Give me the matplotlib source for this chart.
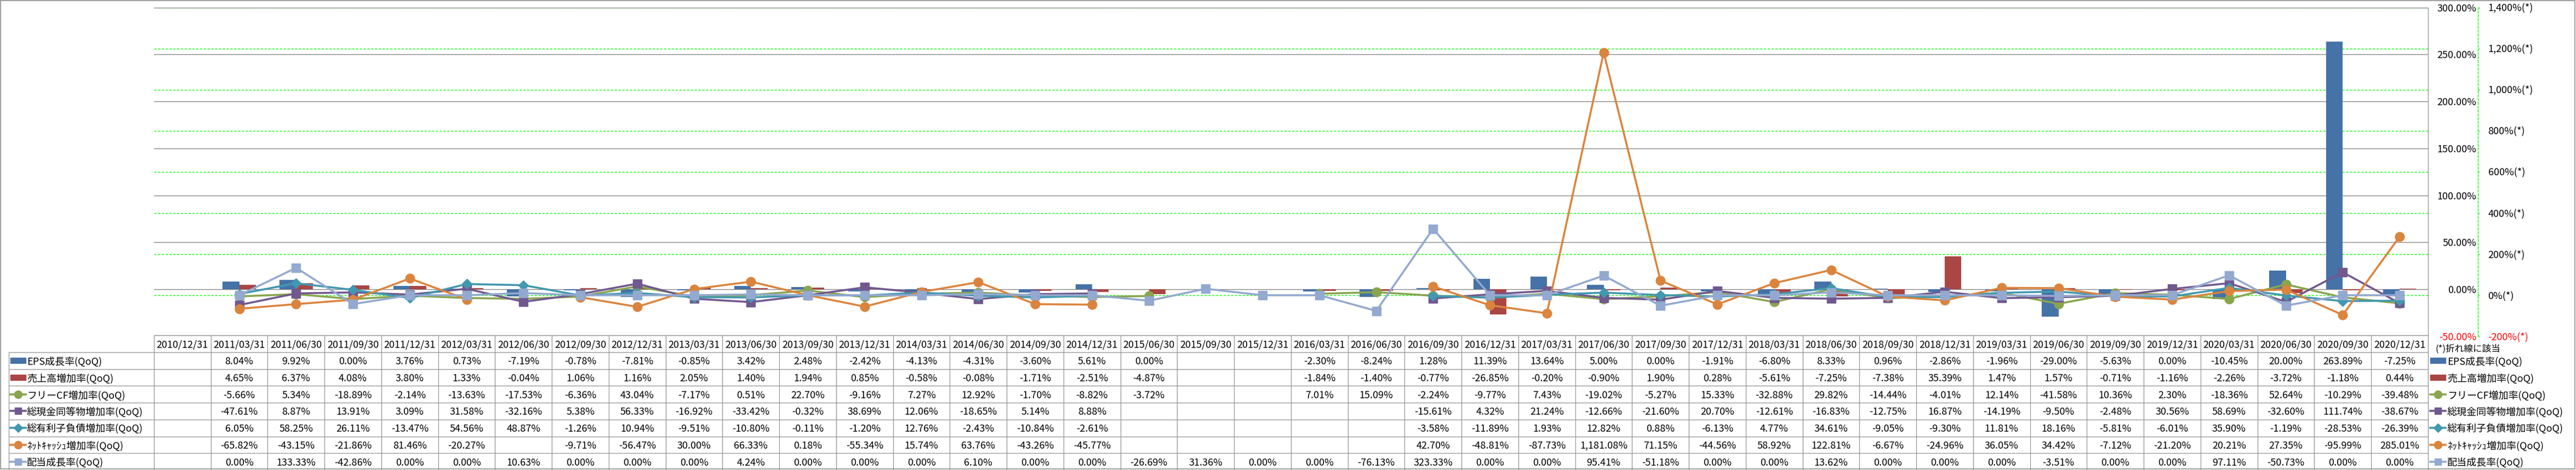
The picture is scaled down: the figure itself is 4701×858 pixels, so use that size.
import numpy as np
import matplotlib
matplotlib.use('Agg')
import matplotlib.pyplot as plt
from matplotlib.lines import Line2D
from matplotlib.patches import Rectangle

plt.rcParams['font.family'] = ['Noto Sans CJK JP', 'DejaVu Sans']

nan = np.nan

# 四半期ラベル (2015/03/31 は元データに無い)
dates = ['2010/12/31', '2011/03/31', '2011/06/30', '2011/09/30', '2011/12/31',
         '2012/03/31', '2012/06/30', '2012/09/30', '2012/12/31', '2013/03/31',
         '2013/06/30', '2013/09/30', '2013/12/31', '2014/03/31', '2014/06/30',
         '2014/09/30', '2014/12/31', '2015/06/30', '2015/09/30', '2015/12/31',
         '2016/03/31', '2016/06/30', '2016/09/30', '2016/12/31', '2017/03/31',
         '2017/06/30', '2017/09/30', '2017/12/31', '2018/03/31', '2018/06/30',
         '2018/09/30', '2018/12/31', '2019/03/31', '2019/06/30', '2019/09/30',
         '2019/12/31', '2020/03/31', '2020/06/30', '2020/09/30', '2020/12/31']

eps = [nan, 8.04, 9.92, 0.00, 3.76, 0.73, -7.19, -0.78, -7.81, -0.85, 3.42, 2.48, -2.42, -4.13,
       -4.31, -3.60, 5.61, 0.00, nan, nan, -2.30, -8.24, 1.28, 11.39, 13.64, 5.00, 0.00, -1.91,
       -6.80, 8.33, 0.96, -2.86, -1.96, -29.00, -5.63, 0.00, -10.45, 20.00, 263.89, -7.25]
sales = [nan, 4.65, 6.37, 4.08, 3.80, 1.33, -0.04, 1.06, 1.16, 2.05, 1.40, 1.94, 0.85, -0.58,
         -0.08, -1.71, -2.51, -4.87, nan, nan, -1.84, -1.40, -0.77, -26.85, -0.20, -0.90, 1.90,
         0.28, -5.61, -7.25, -7.38, 35.39, 1.47, 1.57, -0.71, -1.16, -2.26, -3.72, -1.18, 0.44]
fcf = [nan, -5.66, 5.34, -18.89, -2.14, -13.63, -17.53, -6.36, 43.04, -7.17, 0.51, 22.70, -9.16,
       7.27, 12.92, -1.70, -8.82, -3.72, nan, nan, 7.01, 15.09, -2.24, -9.77, 7.43, -19.02, -5.27,
       15.33, -32.88, 29.82, -14.44, -4.01, 12.14, -41.58, 10.36, 2.30, -18.36, 52.64, -10.29, -39.48]
cash = [nan, -47.61, 8.87, 13.91, 3.09, 31.58, -32.16, 5.38, 56.33, -16.92, -33.42, -0.32, 38.69,
        12.06, -18.65, 5.14, 8.88, nan, nan, nan, nan, nan, -15.61, 4.32, 21.24, -12.66, -21.60,
        20.70, -12.61, -16.83, -12.75, 16.87, -14.19, -9.50, -2.48, 30.56, 58.69, -32.60, 111.74, -38.67]
debt = [nan, 6.05, 58.25, 26.11, -13.47, 54.56, 48.87, -1.26, 10.94, -9.51, -10.80, -0.11, -1.20,
        12.76, -2.43, -10.84, -2.61, nan, nan, nan, nan, nan, -3.58, -11.89, 1.93, 12.82, 0.88,
        -6.13, 4.77, 34.61, -9.05, -9.30, 11.81, 18.16, -5.81, -6.01, 35.90, -1.19, -28.53, -26.39]
netcash = [nan, -65.82, -43.15, -21.86, 81.46, -20.27, nan, -9.71, -56.47, 30.00, 66.33, 0.18,
           -55.34, 15.74, 63.76, -43.26, -45.77, nan, nan, nan, nan, nan, 42.70, -48.81, -87.73,
           1181.08, 71.15, -44.56, 58.92, 122.81, -6.67, -24.96, 36.05, 34.42, -7.12, -21.20,
           20.21, 27.35, -95.99, 285.01]
dividend = [nan, 0.00, 133.33, -42.86, 0.00, 0.00, 10.63, 0.00, 0.00, 0.00, 4.24, 0.00, 0.00, 0.00,
            6.10, 0.00, 0.00, -26.69, 31.36, 0.00, 0.00, -76.13, 323.33, 0.00, 0.00, 95.41, -51.18,
            0.00, 0.00, 13.62, 0.00, 0.00, 0.00, -3.51, 0.00, 0.00, 97.11, -50.73, 0.00, 0.00]

names = ['EPS成長率(QoQ)', '売上高増加率(QoQ)', 'フリーCF増加率(QoQ)', '総現金同等物増加率(QoQ)',
         '総有利子負債増加率(QoQ)', 'ﾈｯﾄｷｬｯｼｭ増加率(QoQ)', '配当成長率(QoQ)']
series = [eps, sales, fcf, cash, debt, netcash, dividend]
colors = ['#4572A7', '#AA4643', '#89A54E', '#71588F', '#4198AF', '#DB843D', '#93A9CF']
kinds = ['bar', 'bar', 'o', 's', 'D', 'o', 's']
msizes = {'o': 12, 's': 11, 'D': 9.5}

W, H, DPI = 4701, 858, 100
PX = 72 / DPI  # px -> pt
fig = plt.figure(figsize=(W / DPI, H / DPI), dpi=DPI)

# plot area in pixels
PL, PR, PT, PB = 281, 4431, 13.7, 614
rect = [PL / W, 1 - PB / H, (PR - PL) / W, (PB - PT) / H]
FS = 13
x = np.arange(len(dates))

# 背景 + 緑の補助目盛線 (第2軸)
ax3 = fig.add_axes(rect, zorder=0)
ax3.set_xlim(-0.5, len(dates) - 0.5)
ax3.set_ylim(-200, 1400)
ax3.set_yticks(np.arange(0, 1401, 200))
ax3.grid(axis='y', color='#00FF00', linestyle=(0, (3, 2)), linewidth=1.0)
ax3.tick_params(left=False, bottom=False, labelleft=False, labelbottom=False)
for s in ax3.spines.values():
    s.set_visible(False)

# 棒グラフ (第1軸)
ax = fig.add_axes(rect, zorder=1)
ax.patch.set_visible(False)
bw = 0.292
ax.bar(x - bw / 2, eps, bw, color=colors[0], zorder=3)
ax.bar(x + bw / 2, sales, bw, color=colors[1], zorder=3)
ax.set_xlim(-0.5, len(dates) - 0.5)
ax.set_ylim(-50, 300)
ax.yaxis.tick_right()
yt = np.arange(-50, 301, 50)
ax.set_yticks(yt)
ax.set_yticklabels([f'{v:.2f}%' for v in yt], fontsize=FS)
ax.tick_params(axis='y', length=0, pad=88 * PX)
for lab in ax.get_yticklabels():
    lab.set_horizontalalignment('right')
ax.get_yticklabels()[0].set_color('red')
ax.tick_params(axis='x', bottom=False, labelbottom=False)
ax.grid(axis='y', color='#868686', linewidth=1.0)
ax.set_axisbelow(True)
for s in ax.spines.values():
    s.set_visible(False)

# 折れ線 (第2軸)
ax2 = fig.add_axes(rect, zorder=2)
ax2.patch.set_visible(False)
for k in ['left', 'top', 'bottom']:
    ax2.spines[k].set_visible(False)
ax2.spines['right'].set_position(('outward', 91 * PX))
ax2.spines['right'].set_color('#00FF00')
ax2.spines['right'].set_linestyle((0, (3, 2)))
ax2.spines['right'].set_linewidth(1.0)
for vals, c, m in zip(series[2:], colors[2:], kinds[2:]):
    ax2.plot(x, vals, color=c, lw=2.6, marker=m, ms=msizes[m], mec=c, mfc=c)
ax2.set_xlim(-0.5, len(dates) - 0.5)
ax2.set_ylim(-200, 1400)
ax2.yaxis.tick_right()
yt2 = np.arange(-200, 1401, 200)
ax2.set_yticks(yt2)
ax2.set_yticklabels([f'{v:,}%(*)' for v in yt2], fontsize=FS)
ax2.tick_params(axis='y', length=3 * PX, color='#00FF00', width=1, pad=15.5 * PX)
ax2.get_yticklabels()[0].set_color('red')
ax2.tick_params(axis='x', bottom=False, labelbottom=False)

# データテーブル (ピクセル座標のオーバーレイ)
axo = fig.add_axes([0, 0, 1, 1], zorder=5)
axo.set_xlim(0, W)
axo.set_ylim(H, 0)
axo.axis('off')

gc = '#8C8C8C'
TT, RH = 612.3, 30.7
CW = (PR - PL) / len(dates)
TL = 16

axo.plot([PL, PR], [TT, TT], color=gc, lw=0.8)
for k in range(1, 8):
    yy = TT + RH * k
    axo.plot([TL, PR], [yy, yy], color=gc, lw=0.8)
axo.plot([TL, TL], [TT + RH, H - 1], color=gc, lw=0.8)
for i in range(len(dates) + 1):
    xx = PL + CW * i
    axo.plot([xx, xx], [TT, H - 1], color=gc, lw=0.8)
axo.plot([PR, PR], [PT, H - 1], color=gc, lw=0.8)

for i, d in enumerate(dates):
    axo.text(PL + CW * (i + 0.5), TT + RH * 0.5, d, ha='center', va='center_baseline', fontsize=FS)

for r, vals in enumerate(series):
    cy = TT + RH * (r + 1.5)
    for i, v in enumerate(vals):
        if not np.isnan(v):
            axo.text(PL + CW * (i + 0.5), cy, f'{v:,.2f}%', ha='center', va='center_baseline', fontsize=FS)


def legend_key(x0, x1, cy, c, kind):
    if kind == 'bar':
        axo.add_patch(Rectangle((x0, cy - 5), x1 - x0, 10, color=c))
    else:
        axo.add_line(Line2D([x0, x1], [cy, cy], color=c, lw=2.6))
        axo.add_line(Line2D([(x0 + x1) / 2], [cy], color=c, marker=kind, ms=msizes[kind] * 0.85,
                            mec=c, mfc=c))


for r, (nm, c, kd) in enumerate(zip(names, colors, kinds)):
    cy = TT + RH * (r + 1.5)
    legend_key(19, 47, cy, c, kd)
    axo.text(49, cy, nm, ha='left', va='center_baseline', fontsize=FS)
    legend_key(4435, 4463, cy, c, kd)
    axo.text(4466, cy, nm, ha='left', va='center_baseline', fontsize=FS)

axo.text(4445, TT + RH * 0.75, '(*)折れ線に該当', ha='left', va='center_baseline', fontsize=12)

# 外枠
axo.add_patch(Rectangle((1, 1), W - 3, H - 3, fill=False, edgecolor='#868686', lw=1.1))

fig.savefig('out.png', dpi=DPI)
